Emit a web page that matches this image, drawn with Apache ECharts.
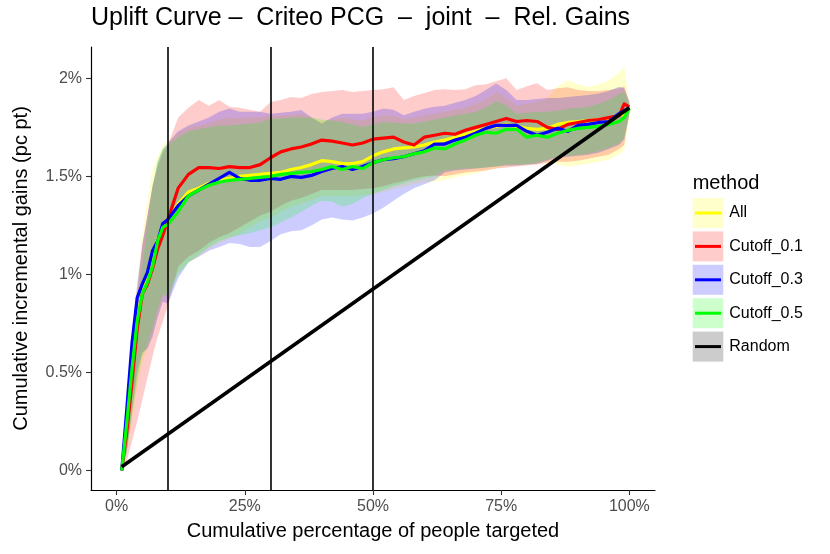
<!DOCTYPE html>
<html>
<head>
<meta charset="utf-8">
<title>Uplift Curve</title>
<script src="https://cdn.jsdelivr.net/npm/echarts@6.0.0/dist/echarts.min.js"></script>
<style>
  html, body { margin: 0; padding: 0; background: #fff; }
  #chart { width: 830px; height: 554px; }
</style>
</head>
<body>
<div id="chart"></div>
<script>
// cumulative % of people targeted
var pctTargeted = [1, 2, 3, 4, 5, 6, 7, 8, 9, 10,
  12, 14, 16, 18, 20, 22, 24, 26, 28, 30,
  32, 34, 36, 38, 40, 42, 44, 46, 48, 50,
  52, 54, 56, 58, 60, 62, 64, 66, 68, 70,
  72, 74, 76, 78, 80, 82, 84, 86, 88, 90,
  92, 94, 96, 98, 99, 100];

// All
var allMean = [0, 0.25, 0.5, 0.75, 0.92, 0.98, 1.06, 1.18, 1.24, 1.27,
  1.36, 1.42, 1.44, 1.465, 1.48, 1.49, 1.50, 1.505, 1.51, 1.515,
  1.52, 1.535, 1.545, 1.56, 1.58, 1.575, 1.565, 1.565, 1.575, 1.605,
  1.625, 1.64, 1.645, 1.65, 1.66, 1.675, 1.685, 1.70, 1.715, 1.73,
  1.745, 1.755, 1.765, 1.755, 1.745, 1.74, 1.745, 1.765, 1.775, 1.78,
  1.785, 1.79, 1.795, 1.81, 1.82, 1.85];
var allLo = [0, 0.1, 0.25, 0.42, 0.55, 0.62, 0.70, 0.80, 0.88, 0.92,
  1.01, 1.06, 1.09, 1.13, 1.16, 1.18, 1.21, 1.24, 1.27, 1.29,
  1.32, 1.345, 1.36, 1.38, 1.40, 1.40, 1.40, 1.40, 1.405, 1.41,
  1.42, 1.435, 1.445, 1.46, 1.47, 1.475, 1.48, 1.495, 1.505, 1.515,
  1.53, 1.54, 1.55, 1.555, 1.56, 1.565, 1.566, 1.56, 1.55, 1.555,
  1.565, 1.575, 1.585, 1.61, 1.634, 1.80];
var allHi = [0, 0.42, 0.7, 0.95, 1.2, 1.38, 1.53, 1.6, 1.66, 1.68,
  1.72, 1.75, 1.76, 1.77, 1.79, 1.80, 1.795, 1.80, 1.80, 1.81,
  1.81, 1.815, 1.82, 1.80, 1.78, 1.79, 1.80, 1.79, 1.785, 1.80,
  1.81, 1.81, 1.79, 1.80, 1.81, 1.82, 1.83, 1.84, 1.85, 1.87,
  1.89, 1.93, 1.90, 1.86, 1.87, 1.88, 1.90, 1.96, 1.99, 1.97,
  1.957, 1.97, 1.99, 2.03, 2.06, 1.88];

// Cutoff_0.1
var cut01Mean = [0, 0.2, 0.45, 0.72, 0.9, 0.95, 1.03, 1.13, 1.2, 1.28,
  1.44, 1.51, 1.545, 1.545, 1.54, 1.55, 1.545, 1.545, 1.56, 1.595,
  1.625, 1.64, 1.65, 1.665, 1.685, 1.68, 1.67, 1.66, 1.67, 1.69,
  1.695, 1.70, 1.675, 1.66, 1.70, 1.71, 1.72, 1.715, 1.735, 1.75,
  1.765, 1.78, 1.795, 1.78, 1.785, 1.78, 1.75, 1.74, 1.765, 1.775,
  1.785, 1.79, 1.80, 1.81, 1.87, 1.855];
var cut01Lo = [0, 0.05, 0.15, 0.25, 0.36, 0.47, 0.58, 0.68, 0.76, 0.84,
  1.04, 1.09, 1.12, 1.16, 1.19, 1.21, 1.24, 1.27, 1.30, 1.32,
  1.35, 1.375, 1.39, 1.41, 1.43, 1.43, 1.43, 1.43, 1.435, 1.44,
  1.45, 1.465, 1.475, 1.49, 1.50, 1.505, 1.50, 1.51, 1.52, 1.525,
  1.53, 1.54, 1.545, 1.55, 1.555, 1.56, 1.57, 1.575, 1.575, 1.58,
  1.59, 1.60, 1.61, 1.64, 1.66, 1.82];
var cut01Hi = [0, 0.4, 0.68, 0.9, 1.15, 1.3, 1.45, 1.55, 1.62, 1.66,
  1.80, 1.85, 1.89, 1.86, 1.89, 1.855, 1.85, 1.84, 1.83, 1.88,
  1.89, 1.905, 1.90, 1.92, 1.93, 1.935, 1.94, 1.93, 1.935, 1.94,
  1.945, 1.955, 1.89, 1.91, 1.925, 1.94, 1.945, 1.94, 1.945, 1.965,
  1.97, 1.985, 2.0, 1.94, 1.96, 1.975, 1.94, 1.95, 1.955, 1.94,
  1.935, 1.935, 1.94, 1.95, 1.96, 1.88];

// Cutoff_0.3
var cut03Mean = [0, 0.32, 0.65, 0.88, 0.95, 1.01, 1.12, 1.17, 1.26, 1.28,
  1.35, 1.40, 1.43, 1.46, 1.49, 1.52, 1.49, 1.48, 1.48, 1.49,
  1.485, 1.50, 1.495, 1.505, 1.525, 1.54, 1.55, 1.535, 1.55, 1.57,
  1.585, 1.59, 1.60, 1.615, 1.63, 1.665, 1.665, 1.685, 1.70, 1.72,
  1.745, 1.76, 1.76, 1.76, 1.73, 1.71, 1.725, 1.745, 1.73, 1.76,
  1.765, 1.775, 1.78, 1.82, 1.835, 1.85];
var cut03Lo = [0, 0.1, 0.3, 0.5, 0.6, 0.62, 0.68, 0.78, 0.86, 0.85,
  0.98, 1.06, 1.09, 1.12, 1.14, 1.16, 1.155, 1.14, 1.14, 1.17,
  1.205, 1.22, 1.225, 1.25, 1.28, 1.29, 1.28, 1.275, 1.29, 1.31,
  1.34, 1.375, 1.41, 1.44, 1.46, 1.48, 1.52, 1.53, 1.535, 1.54,
  1.545, 1.55, 1.555, 1.555, 1.56, 1.565, 1.58, 1.595, 1.60, 1.605,
  1.61, 1.62, 1.64, 1.66, 1.69, 1.82];
var cut03Hi = [0, 0.38, 0.68, 0.95, 1.15, 1.3, 1.45, 1.57, 1.64, 1.67,
  1.73, 1.76, 1.78, 1.80, 1.83, 1.846, 1.83, 1.83, 1.83, 1.82,
  1.825, 1.83, 1.838, 1.80, 1.77, 1.80, 1.82, 1.82, 1.82, 1.83,
  1.846, 1.84, 1.812, 1.83, 1.845, 1.855, 1.86, 1.875, 1.89, 1.91,
  1.94, 1.974, 1.94, 1.889, 1.89, 1.895, 1.90, 1.90, 1.905, 1.91,
  1.915, 1.923, 1.935, 1.957, 1.95, 1.88];

// Cutoff_0.5
var cut05Mean = [0, 0.25, 0.52, 0.76, 0.9, 0.96, 1.04, 1.17, 1.24, 1.255,
  1.32, 1.40, 1.43, 1.455, 1.47, 1.48, 1.485, 1.49, 1.495, 1.50,
  1.51, 1.515, 1.52, 1.525, 1.535, 1.55, 1.535, 1.55, 1.54, 1.57,
  1.585, 1.595, 1.60, 1.615, 1.625, 1.645, 1.64, 1.665, 1.685, 1.71,
  1.725, 1.72, 1.74, 1.74, 1.70, 1.71, 1.70, 1.72, 1.735, 1.745,
  1.75, 1.755, 1.765, 1.78, 1.80, 1.845];
var cut05Lo = [0, 0.1, 0.28, 0.45, 0.58, 0.64, 0.72, 0.82, 0.90, 0.88,
  1.0, 1.06, 1.10, 1.14, 1.17, 1.19, 1.20, 1.21, 1.225, 1.24,
  1.265, 1.29, 1.32, 1.35, 1.375, 1.37, 1.345, 1.36, 1.39, 1.41,
  1.43, 1.45, 1.465, 1.48, 1.49, 1.50, 1.53, 1.535, 1.54, 1.54,
  1.545, 1.55, 1.56, 1.56, 1.56, 1.57, 1.585, 1.60, 1.605, 1.61,
  1.617, 1.63, 1.645, 1.668, 1.70, 1.81];
var cut05Hi = [0, 0.3, 0.55, 0.8, 1.05, 1.25, 1.45, 1.58, 1.64, 1.66,
  1.70, 1.73, 1.74, 1.75, 1.76, 1.76, 1.765, 1.77, 1.775, 1.795,
  1.795, 1.80, 1.80, 1.80, 1.79, 1.785, 1.778, 1.765, 1.753, 1.765,
  1.778, 1.775, 1.77, 1.77, 1.78, 1.79, 1.80, 1.81, 1.82, 1.83,
  1.85, 1.885, 1.86, 1.82, 1.825, 1.83, 1.83, 1.835, 1.845, 1.85,
  1.855, 1.87, 1.89, 1.92, 1.93, 1.87];

// Random baseline
var randomX = [1, 100];
var randomY = [0.0185, 1.85];

var vlineX = [10, 30, 50];
var xTicks = [0, 25, 50, 75, 100];
var yTicks = [0, 0.5, 1, 1.5, 2];

var methods = ['All', 'Cutoff_0.1', 'Cutoff_0.3', 'Cutoff_0.5', 'Random'];
var lineColors = ['#FFFF00', '#FF0000', '#0000FF', '#00FF00', '#000000'];
var bandColors = ['rgba(255,255,0,0.2)', 'rgba(255,0,0,0.2)', 'rgba(0,0,255,0.2)', 'rgba(0,255,0,0.2)', 'rgba(0,0,0,0.2)'];

var FONT = '"Liberation Sans", Arial, Helvetica, sans-serif';

function pairs(xs, ys) {
  return xs.map(function (x, i) { return [x, ys[i]]; });
}

// ribbon drawn as one polygon per method
function band(name, lo, hi, color) {
  var pts = pctTargeted.map(function (x, i) { return [x, lo[i], hi[i]]; });
  return {
    name: name + ' band',
    type: 'custom',
    silent: true,
    z: 1,
    data: pts,
    encode: { x: 0, y: [1, 2] },
    renderItem: function (params, api) {
      if (params.dataIndex !== 0) return null;
      var up = pts.map(function (p) { return api.coord([p[0], p[2]]); });
      var dn = pts.map(function (p) { return api.coord([p[0], p[1]]); }).reverse();
      return {
        type: 'polygon',
        shape: { points: up.concat(dn) },
        style: { fill: color, stroke: null }
      };
    }
  };
}

function meanLine(name, ys, color) {
  return {
    name: name,
    type: 'line',
    z: 3,
    data: pairs(pctTargeted, ys),
    showSymbol: false,
    symbol: 'none',
    lineStyle: { color: color, width: 3.2, join: 'round' },
    emphasis: { disabled: true }
  };
}

var chart = echarts.init(document.getElementById('chart'), null, { renderer: 'canvas' });

// legend keys, ggplot style
var legendItems = [{
  type: 'text', left: 692.7, top: 173,
  style: { text: 'method', font: '20px ' + FONT, fill: '#000' }
}];
methods.forEach(function (m, i) {
  var y0 = 198 + i * 33.4;
  legendItems.push({
    type: 'rect',
    shape: { x: 692.7, y: y0, width: 30.6, height: 30 },
    style: { fill: bandColors[i] }
  });
  legendItems.push({
    type: 'line',
    shape: { x1: 695, y1: y0 + 15, x2: 721, y2: y0 + 15 },
    style: { stroke: lineColors[i], lineWidth: 3 }
  });
  legendItems.push({
    type: 'text', x: 729.3, y: y0 + 15,
    style: { text: m, font: '16px ' + FONT, fill: '#000', verticalAlign: 'middle' }
  });
});

var option = {
  animation: false,
  backgroundColor: '#fff',
  title: {
    text: 'Uplift Curve –  Criteo PCG  –  joint  –  Rel. Gains',
    left: 91,
    top: 6,
    padding: 0,
    textStyle: { fontSize: 25, fontWeight: 'normal', color: '#000', fontFamily: FONT }
  },
  grid: { left: 91, right: 175, top: 47, bottom: 64 },
  xAxis: {
    type: 'value',
    min: -5,
    max: 105,
    name: 'Cumulative percentage of people targeted',
    nameLocation: 'middle',
    nameGap: 31,
    nameTextStyle: { fontSize: 20, color: '#000', fontFamily: FONT },
    axisLine: { show: true, onZero: false, lineStyle: { color: '#000', width: 1.2 } },
    axisTick: { show: true, length: 5, customValues: xTicks, lineStyle: { color: '#333', width: 1.1 } },
    axisLabel: {
      customValues: xTicks,
      margin: 9,
      fontSize: 16,
      color: '#4D4D4D',
      fontFamily: FONT,
      formatter: function (v) { return v + '%'; }
    },
    splitLine: { show: false }
  },
  yAxis: {
    type: 'value',
    min: -0.1,
    max: 2.16,
    name: 'Cumulative incremental gains (pc pt)',
    nameLocation: 'middle',
    nameGap: 60,
    nameRotate: 90,
    nameTextStyle: { fontSize: 20, color: '#000', fontFamily: FONT },
    axisLine: { show: true, onZero: false, lineStyle: { color: '#000', width: 1.2 } },
    axisTick: { show: true, length: 5, customValues: yTicks, lineStyle: { color: '#333', width: 1.1 } },
    axisLabel: {
      customValues: yTicks,
      margin: 9,
      fontSize: 16,
      color: '#4D4D4D',
      fontFamily: FONT,
      formatter: function (v) { return v + '%'; }
    },
    splitLine: { show: false }
  },
  graphic: legendItems,
  series: [
    band('All', allLo, allHi, bandColors[0]),
    band('Cutoff_0.1', cut01Lo, cut01Hi, bandColors[1]),
    band('Cutoff_0.3', cut03Lo, cut03Hi, bandColors[2]),
    band('Cutoff_0.5', cut05Lo, cut05Hi, bandColors[3]),
    meanLine('All', allMean, lineColors[0]),
    meanLine('Cutoff_0.1', cut01Mean, lineColors[1]),
    meanLine('Cutoff_0.3', cut03Mean, lineColors[2]),
    meanLine('Cutoff_0.5', cut05Mean, lineColors[3]),
    {
      name: 'Random',
      type: 'line',
      z: 4,
      data: pairs(randomX, randomY),
      showSymbol: false,
      symbol: 'none',
      lineStyle: { color: '#000', width: 3.6 },
      emphasis: { disabled: true },
      markLine: {
        silent: true,
        symbol: 'none',
        label: { show: false },
        lineStyle: { color: '#000', width: 1.6, type: 'solid' },
        data: vlineX.map(function (v) { return { xAxis: v }; })
      }
    }
  ]
};

chart.setOption(option);
</script>
</body>
</html>
